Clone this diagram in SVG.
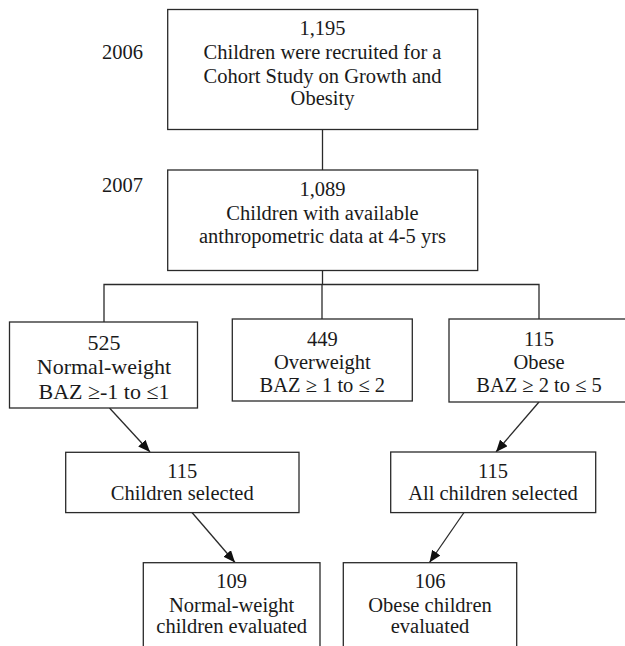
<svg xmlns="http://www.w3.org/2000/svg" width="625" height="646" viewBox="0 0 625 646" font-family="Liberation Serif, Times New Roman, serif">
<style>
.box{fill:#fff;stroke:#2a2a2a;stroke-width:1.3}
.ln{fill:none;stroke:#2a2a2a;stroke-width:1.3}
text{font-family:Liberation Serif, Times New Roman, serif;font-size:20.5px;fill:#1a1a1a;text-anchor:middle}
.yr{text-anchor:start}
.big{font-size:22px}
</style>
<defs>
<marker id="ah" viewBox="0 0 12 10" refX="12" refY="5" markerWidth="12" markerHeight="10" markerUnits="userSpaceOnUse" orient="auto">
<path d="M0,0 L12,5 L0,10 Z" fill="#111"/>
</marker>
</defs>
<rect width="625" height="646" fill="#fff"/>
<g id="connectors">
<line class="ln" x1="322.5" y1="129.5" x2="322.5" y2="170"/>
<polyline class="ln" points="322.5,270.5 322.5,284.5"/>
<polyline class="ln" points="104,322 104,284.5 539,284.5 539,319"/>
<line class="ln" x1="322" y1="284.5" x2="322" y2="319"/>
<line class="ln" x1="109.5" y1="408" x2="150" y2="452" marker-end="url(#ah)"/>
<line class="ln" x1="539" y1="402" x2="496" y2="452" marker-end="url(#ah)"/>
<line class="ln" x1="192" y1="512.5" x2="235" y2="562.5" marker-end="url(#ah)"/>
<line class="ln" x1="464" y1="512.5" x2="429.5" y2="562.5" marker-end="url(#ah)"/>
</g>
<g id="year2006"><text class="yr" x="102" y="59">2006</text></g>
<g id="year2007"><text class="yr" x="102" y="192">2007</text></g>
<g id="n1195">
<rect class="box" x="167.7" y="9.5" width="310" height="120"/>
<text x="322.5" y="35">1,195</text>
<text x="322.5" y="59">Children were recruited for a</text>
<text x="322.5" y="82.5">Cohort Study on Growth and</text>
<text x="322.5" y="105">Obesity</text>
</g>
<g id="n1089">
<rect class="box" x="167.7" y="170" width="310" height="100.5"/>
<text x="322.5" y="196">1,089</text>
<text x="322.5" y="219.5">Children with available</text>
<text x="322.5" y="242.5">anthropometric data at 4-5 yrs</text>
</g>
<g id="n525">
<rect class="box" x="9.5" y="322" width="188" height="86"/>
<text class="big" x="104" y="350">525</text>
<text class="big" x="104" y="373.5">Normal-weight</text>
<text class="big" x="104" y="398.5">BAZ  ≥-1 to ≤1</text>
</g>
<g id="n449">
<rect class="box" x="232.3" y="319" width="180" height="82"/>
<text x="322.3" y="345.5">449</text>
<text x="322.3" y="368.5">Overweight</text>
<text x="322.3" y="391.5">BAZ ≥ 1 to ≤ 2</text>
</g>
<g id="n115obese">
<rect class="box" x="449" y="319" width="190" height="83"/>
<text x="539" y="346">115</text>
<text x="539" y="369">Obese</text>
<text x="539" y="391.5">BAZ ≥ 2 to ≤ 5</text>
</g>
<g id="n115sel">
<rect class="box" x="65.7" y="452.3" width="233.3" height="60.3"/>
<text x="182.3" y="478.3">115</text>
<text x="182.3" y="500">Children selected</text>
</g>
<g id="n115all">
<rect class="box" x="390.7" y="452" width="205" height="60.6"/>
<text x="493" y="478.3">115</text>
<text x="493" y="500">All children selected</text>
</g>
<g id="n109">
<rect class="box" x="143.3" y="562.7" width="176.7" height="100"/>
<text x="231.7" y="588.3">109</text>
<text x="231.7" y="611.7">Normal-weight</text>
<text x="231.7" y="633.3">children evaluated</text>
</g>
<g id="n106">
<rect class="box" x="343.3" y="562.7" width="173.4" height="100"/>
<text x="430" y="588.3">106</text>
<text x="430" y="611.7">Obese children</text>
<text x="430" y="633.3">evaluated</text>
</g>
</svg>
